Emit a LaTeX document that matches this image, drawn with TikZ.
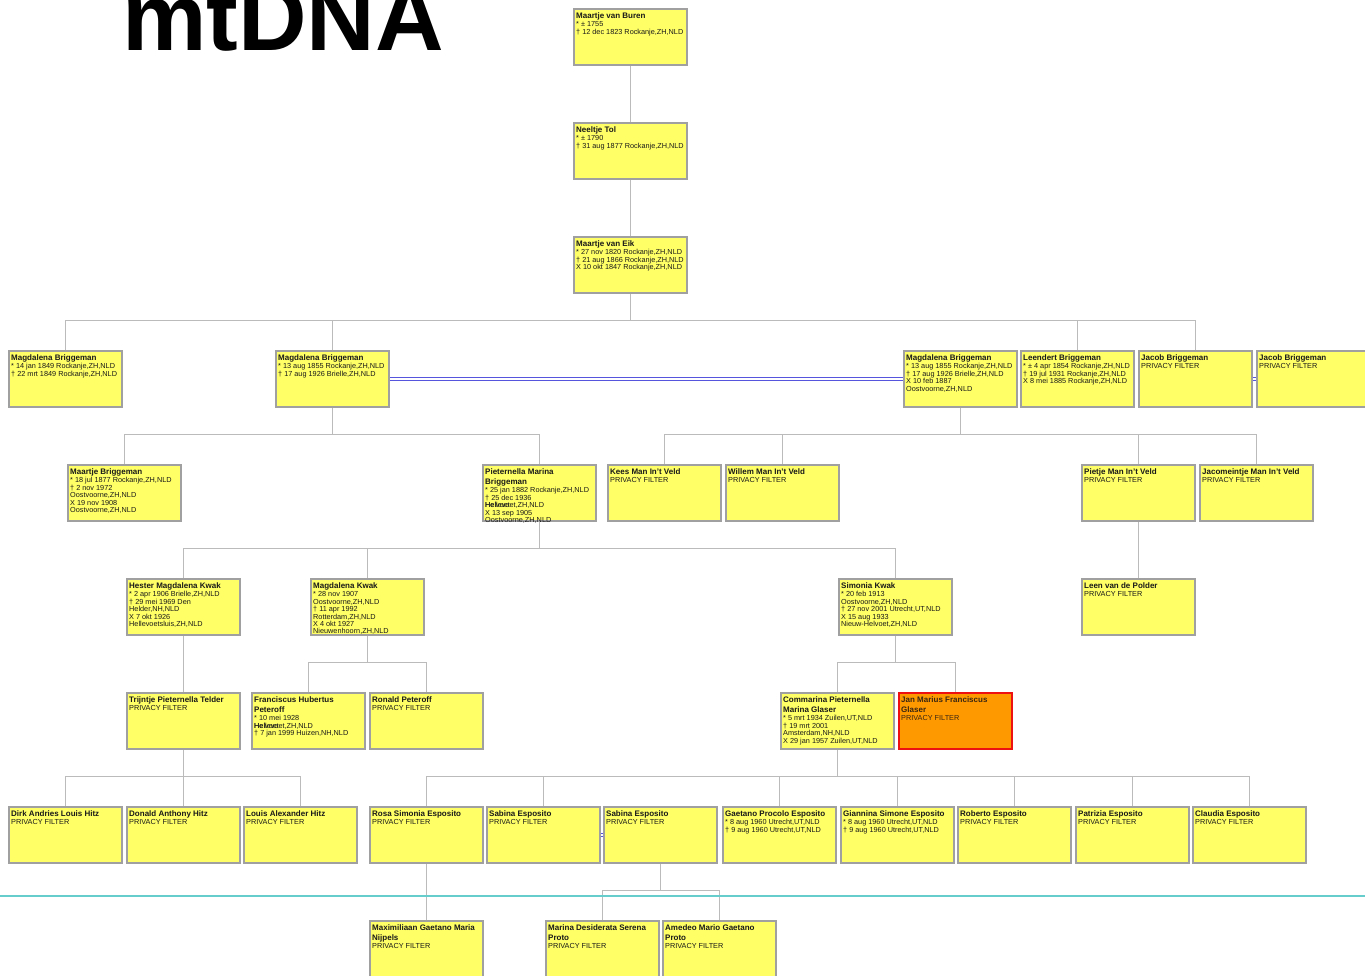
\documentclass[tikz,border=0pt]{standalone}
\usepackage{fontspec}
\setmainfont{Liberation Sans}
\definecolor{boxyellow}{HTML}{FFFF66}
\definecolor{boxgray}{HTML}{A0A0A0}
\definecolor{linkgray}{HTML}{BBBBBB}
\definecolor{dupblue}{HTML}{5555DD}
\definecolor{septeal}{HTML}{66CCCC}
\definecolor{selorange}{HTML}{FF9900}
\definecolor{selred}{HTML}{EE1111}
\newcommand{\nm}[1]{{\fontsize{8}{9}\selectfont\bfseries #1}}
\begin{document}
\begin{tikzpicture}[x=1pt,y=-1pt,
  person/.style={draw=boxgray, line width=2pt, fill=boxyellow, anchor=north west,
    minimum width=113pt, minimum height=56pt, inner sep=0pt},
  selected/.style={person, draw=selred, fill=selorange},
  info/.style={anchor=north west, inner xsep=3pt, inner ysep=4pt, align=left,
    font=\fontsize{7.3}{7.4}\selectfont, text=black!90},
  link/.style={draw=linkgray, line width=1pt},
  dup/.style={draw=dupblue, line width=0.6pt, double=white, double distance=2pt},
  sepline/.style={draw=septeal, line width=1.5pt}]
\useasboundingbox (0,0) rectangle (1365,975);
\clip (0,0) rectangle (1365,975);

\node[anchor=base west, inner sep=0pt, font=\fontsize{95}{95}\selectfont\bfseries] (mtdna) at (122,50) {mtDNA};

% generation 0
\node[person] (vanburen) at (573,8) {};
\node[info] (vanburen-i) at (vanburen.north west) {\nm{Maartje van Buren}\\[1.4pt]{*} ± 1755\\† 12 dec 1823 Rockanje,ZH,NLD};
\node[person] (tol) at (573,122) {};
\node[info] (tol-i) at (tol.north west) {\nm{Neeltje Tol}\\[1.4pt]{*} ± 1790\\† 31 aug 1877 Rockanje,ZH,NLD};
\node[person] (vaneik) at (573,236) {};
\node[info] (vaneik-i) at (vaneik.north west) {\nm{Maartje van Eik}\\[1.4pt]{*} 27 nov 1820 Rockanje,ZH,NLD\\† 21 aug 1866 Rockanje,ZH,NLD\\X 10 okt 1847 Rockanje,ZH,NLD};

% Briggeman
\node[person] (mbA) at (8,350) {};
\node[info] (mbA-i) at (mbA.north west) {\nm{Magdalena Briggeman}\\[1.4pt]{*} 14 jan 1849 Rockanje,ZH,NLD\\† 22 mrt 1849 Rockanje,ZH,NLD};
\node[person] (mbB) at (275,350) {};
\node[info] (mbB-i) at (mbB.north west) {\nm{Magdalena Briggeman}\\[1.4pt]{*} 13 aug 1855 Rockanje,ZH,NLD\\† 17 aug 1926 Brielle,ZH,NLD};
\node[person] (mbC) at (903,350) {};
\node[info] (mbC-i) at (mbC.north west) {\nm{Magdalena Briggeman}\\[1.4pt]{*} 13 aug 1855 Rockanje,ZH,NLD\\† 17 aug 1926 Brielle,ZH,NLD\\X 10 feb 1887\\Oostvoorne,ZH,NLD};
\node[person] (leendert) at (1020,350) {};
\node[info] (leendert-i) at (leendert.north west) {\nm{Leendert Briggeman}\\[1.4pt]{*} ± 4 apr 1854 Rockanje,ZH,NLD\\† 19 jul 1931 Rockanje,ZH,NLD\\X 8 mei 1885 Rockanje,ZH,NLD};
\node[person] (jacobA) at (1138,350) {};
\node[info] (jacobA-i) at (jacobA.north west) {\nm{Jacob Briggeman}\\[1.4pt]PRIVACY FILTER};
\node[person] (jacobB) at (1256,350) {};
\node[info] (jacobB-i) at (jacobB.north west) {\nm{Jacob Briggeman}\\[1.4pt]PRIVACY FILTER};

% generation 2
\node[person] (maartjeB) at (67,464) {};
\node[info] (maartjeB-i) at (maartjeB.north west) {\nm{Maartje Briggeman}\\[1.4pt]{*} 18 jul 1877 Rockanje,ZH,NLD\\† 2 nov 1972\\Oostvoorne,ZH,NLD\\X 19 nov 1908\\Oostvoorne,ZH,NLD};
\node[person] (pieternella) at (482,464) {};
\node[info] (pieternella-i) at (pieternella.north west) {\nm{Pieternella Marina}\\[2.6pt]\nm{Briggeman}\\[1.4pt]{*} 25 jan 1882 Rockanje,ZH,NLD\\† 25 dec 1936\\\rlap{Helvoet}Hellevoet,ZH,NLD\\X 13 sep 1905\\Oostvoorne,ZH,NLD};
\node[person] (kees) at (607,464) {};
\node[info] (kees-i) at (kees.north west) {\nm{Kees Man In't Veld}\\[1.4pt]PRIVACY FILTER};
\node[person] (willem) at (725,464) {};
\node[info] (willem-i) at (willem.north west) {\nm{Willem Man In't Veld}\\[1.4pt]PRIVACY FILTER};
\node[person] (pietje) at (1081,464) {};
\node[info] (pietje-i) at (pietje.north west) {\nm{Pietje Man In't Veld}\\[1.4pt]PRIVACY FILTER};
\node[person] (jacomeintje) at (1199,464) {};
\node[info] (jacomeintje-i) at (jacomeintje.north west) {\nm{Jacomeintje Man In't Veld}\\[1.4pt]PRIVACY FILTER};

% Kwak
\node[person] (hester) at (126,578) {};
\node[info] (hester-i) at (hester.north west) {\nm{Hester Magdalena Kwak}\\[1.4pt]{*} 2 apr 1906 Brielle,ZH,NLD\\† 29 mei 1969 Den\\Helder,NH,NLD\\X 7 okt 1926\\Hellevoetsluis,ZH,NLD};
\node[person] (magdalenaK) at (310,578) {};
\node[info] (magdalenaK-i) at (magdalenaK.north west) {\nm{Magdalena Kwak}\\[1.4pt]{*} 28 nov 1907\\Oostvoorne,ZH,NLD\\† 11 apr 1992\\Rotterdam,ZH,NLD\\X 4 okt 1927\\Nieuwenhoorn,ZH,NLD};
\node[person] (simonia) at (838,578) {};
\node[info] (simonia-i) at (simonia.north west) {\nm{Simonia Kwak}\\[1.4pt]{*} 20 feb 1913\\Oostvoorne,ZH,NLD\\† 27 nov 2001 Utrecht,UT,NLD\\X 15 aug 1933\\Nieuw-Helvoet,ZH,NLD};
\node[person] (leen) at (1081,578) {};
\node[info] (leen-i) at (leen.north west) {\nm{Leen van de Polder}\\[1.4pt]PRIVACY FILTER};

% generation 4
\node[person] (trijntje) at (126,692) {};
\node[info] (trijntje-i) at (trijntje.north west) {\nm{Trijntje Pieternella Telder}\\[1.4pt]PRIVACY FILTER};
\node[person] (franciscus) at (251,692) {};
\node[info] (franciscus-i) at (franciscus.north west) {\nm{Franciscus Hubertus}\\[2.6pt]\nm{Peteroff}\\[1.4pt]{*} 10 mei 1928\\\rlap{Helvoet}Hellevoet,ZH,NLD\\† 7 jan 1999 Huizen,NH,NLD};
\node[person] (ronald) at (369,692) {};
\node[info] (ronald-i) at (ronald.north west) {\nm{Ronald Peteroff}\\[1.4pt]PRIVACY FILTER};
\node[person] (commarina) at (780,692) {};
\node[info] (commarina-i) at (commarina.north west) {\nm{Commarina Pieternella}\\[2.6pt]\nm{Marina Glaser}\\[1.4pt]{*} 5 mrt 1934 Zuilen,UT,NLD\\† 19 mrt 2001\\Amsterdam,NH,NLD\\X 29 jan 1957 Zuilen,UT,NLD};
\node[selected] (janmarius) at (898,692) {};
\node[info, text=black!70!brown] (janmarius-i) at (janmarius.north west) {\nm{Jan Marius Franciscus}\\[2.6pt]\nm{Glaser}\\[1.4pt]PRIVACY FILTER};

% Hitz, Esposito
\node[person] (dirk) at (8,806) {};
\node[info] (dirk-i) at (dirk.north west) {\nm{Dirk Andries Louis Hitz}\\[1.4pt]PRIVACY FILTER};
\node[person] (donald) at (126,806) {};
\node[info] (donald-i) at (donald.north west) {\nm{Donald Anthony Hitz}\\[1.4pt]PRIVACY FILTER};
\node[person] (louis) at (243,806) {};
\node[info] (louis-i) at (louis.north west) {\nm{Louis Alexander Hitz}\\[1.4pt]PRIVACY FILTER};
\node[person] (rosa) at (369,806) {};
\node[info] (rosa-i) at (rosa.north west) {\nm{Rosa Simonia Esposito}\\[1.4pt]PRIVACY FILTER};
\node[person] (sabinaA) at (486,806) {};
\node[info] (sabinaA-i) at (sabinaA.north west) {\nm{Sabina Esposito}\\[1.4pt]PRIVACY FILTER};
\node[person] (sabinaB) at (603,806) {};
\node[info] (sabinaB-i) at (sabinaB.north west) {\nm{Sabina Esposito}\\[1.4pt]PRIVACY FILTER};
\node[person] (gaetano) at (722,806) {};
\node[info] (gaetano-i) at (gaetano.north west) {\nm{Gaetano Procolo Esposito}\\[1.4pt]{*} 8 aug 1960 Utrecht,UT,NLD\\† 9 aug 1960 Utrecht,UT,NLD};
\node[person] (giannina) at (840,806) {};
\node[info] (giannina-i) at (giannina.north west) {\nm{Giannina Simone Esposito}\\[1.4pt]{*} 8 aug 1960 Utrecht,UT,NLD\\† 9 aug 1960 Utrecht,UT,NLD};
\node[person] (roberto) at (957,806) {};
\node[info] (roberto-i) at (roberto.north west) {\nm{Roberto Esposito}\\[1.4pt]PRIVACY FILTER};
\node[person] (patrizia) at (1075,806) {};
\node[info] (patrizia-i) at (patrizia.north west) {\nm{Patrizia Esposito}\\[1.4pt]PRIVACY FILTER};
\node[person] (claudia) at (1192,806) {};
\node[info] (claudia-i) at (claudia.north west) {\nm{Claudia Esposito}\\[1.4pt]PRIVACY FILTER};

% generation 6
\node[person] (maximiliaan) at (369,920) {};
\node[info] (maximiliaan-i) at (maximiliaan.north west) {\nm{Maximiliaan Gaetano Maria}\\[2.6pt]\nm{Nijpels}\\[1.4pt]PRIVACY FILTER};
\node[person] (marina) at (545,920) {};
\node[info] (marina-i) at (marina.north west) {\nm{Marina Desiderata Serena}\\[2.6pt]\nm{Proto}\\[1.4pt]PRIVACY FILTER};
\node[person] (amedeo) at (662,920) {};
\node[info] (amedeo-i) at (amedeo.north west) {\nm{Amedeo Mario Gaetano}\\[2.6pt]\nm{Proto}\\[1.4pt]PRIVACY FILTER};

% family bars
\coordinate (bar1) at (630.5,320);
\coordinate (bar2) at (332.5,434);
\coordinate (bar3) at (960.5,434);
\coordinate (bar4) at (539.5,548);
\coordinate (bar5) at (367.5,662);
\coordinate (bar6) at (895.5,662);
\coordinate (bar7) at (183.5,776);
\coordinate (bar8) at (837.5,776);
\coordinate (bar9) at (660.5,890);

\path[link] (vanburen) -- (tol);
\path[link] (tol) -- (vaneik);
\path[link] (vaneik) -- (bar1);
\foreach \c in {mbA,mbB,leendert,jacobA} \path[link] (bar1) -| (\c);
\path[link] (mbB) -- (bar2);
\foreach \c in {maartjeB,pieternella} \path[link] (bar2) -| (\c);
\path[link] (mbC) -- (bar3);
\foreach \c in {kees,willem,pietje,jacomeintje} \path[link] (bar3) -| (\c);
\path[link] (pieternella) -- (bar4);
\foreach \c in {hester,magdalenaK,simonia} \path[link] (bar4) -| (\c);
\path[link] (pietje) -- (leen);
\path[link] (hester) -- (trijntje);
\path[link] (magdalenaK) -- (bar5);
\foreach \c in {franciscus,ronald} \path[link] (bar5) -| (\c);
\path[link] (simonia) -- (bar6);
\foreach \c in {commarina,janmarius} \path[link] (bar6) -| (\c);
\path[link] (trijntje) -- (bar7);
\foreach \c in {dirk,donald,louis} \path[link] (bar7) -| (\c);
\path[link] (commarina) -- (bar8);
\foreach \c in {rosa,sabinaA,gaetano,giannina,roberto,patrizia,claudia} \path[link] (bar8) -| (\c);
\path[link] (rosa) -- (maximiliaan);
\path[link] (sabinaB) -- (bar9);
\foreach \c in {marina,amedeo} \path[link] (bar9) -| (\c);

% same person shown twice
\path[dup] (mbB) -- (mbC);
\path[dup] (jacobA) -- (jacobB);
\path[dup] (sabinaA) -- (sabinaB);

\coordinate (sepL) at (0,896);
\coordinate (sepR) at (1365,896);
\path[sepline] (sepL) -- (sepR);
\end{tikzpicture}
\end{document}
